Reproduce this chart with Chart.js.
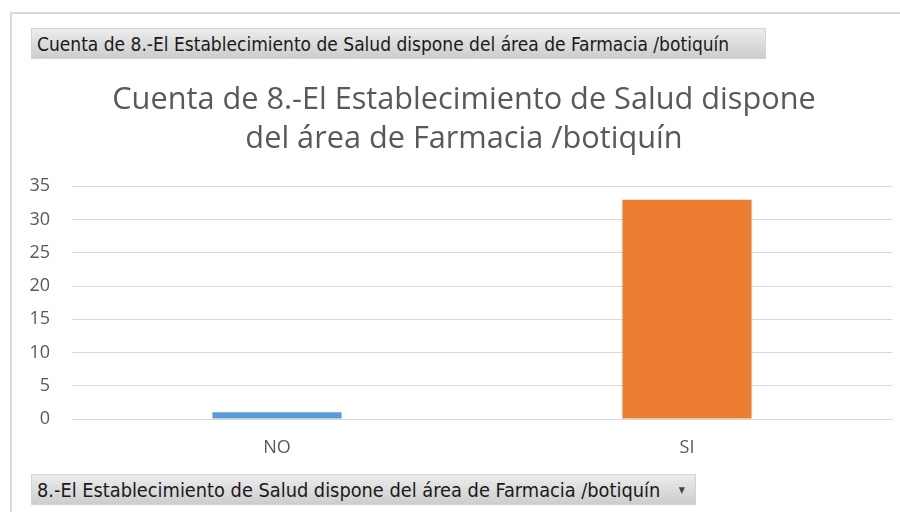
<!DOCTYPE html>
<html>
<head>
<meta charset="utf-8">
<script src="https://cdn.jsdelivr.net/npm/chart.js@4"></script>
<style>
  body { margin: 0; background: #fff; }
  #wrap { position: relative; width: 900px; height: 512px; overflow: hidden; }
  #frame { position: absolute; left: 10px; top: 12px; width: 900px; height: 520px;
           border-left: 2px solid #d9d9d9; border-top: 2px solid #d9d9d9; }
  canvas { position: absolute; left: 0; top: 0; }
  .btn { position: absolute; height: 31px; line-height: 31px; box-sizing: border-box;
         padding-left: 5px; font-family: "DejaVu Sans Condensed", Tahoma, sans-serif; font-size: 19px;
         color: #1a1a1a; background: linear-gradient(to bottom, #ececec, #cdcdcd);
         border: 1px solid #d4d4d4; white-space: nowrap; }
  #topBtn { left: 31px; top: 28px; width: 735px; }
  #bottomBtn { left: 31px; top: 474px; width: 665px; font-size: 19.8px; }
  #bottomBtn .arrow { position: absolute; right: 10px; top: 0; font-size: 9px; color: #444; }
</style>
</head>
<body>
<div id="wrap">
  <div id="frame"></div>
  <canvas id="myChart" width="900" height="512"></canvas>
  <div class="btn" id="topBtn">Cuenta de 8.-El Establecimiento de Salud dispone del área de Farmacia /botiquín</div>
  <div class="btn" id="bottomBtn">8.-El Establecimiento de Salud dispone del área de Farmacia /botiquín<span class="arrow">&#9660;</span></div>
</div>
<script>
const categories = ["NO", "SI"];
const counts = [1, 33];
const barColors = ["#5b9bd5", "#ed7d31"];
const titleLines = ["Cuenta de 8.-El Establecimiento de Salud dispone", "del área de Farmacia /botiquín"];

const ctx = document.getElementById('myChart');

// the title in the picture sits a bit right of the canvas centre
const shiftTitle = {
    id: 'shiftTitle',
    afterLayout(chart) {
        if (chart.titleBlock) chart.titleBlock.left = 36;
    }
};

new Chart(ctx, {
    type: 'bar',
    data: {
        labels: categories,
        datasets: [{
            data: counts,
            backgroundColor: barColors,
            categoryPercentage: 1,
            barPercentage: 0.315
        }]
    },
    options: {
        responsive: false,
        animation: false,
        layout: { padding: { left: 0, right: 8, top: 0, bottom: 0 } },
        plugins: {
            legend: { display: false },
            tooltip: { enabled: false },
            title: {
                display: true,
                text: titleLines,
                color: '#595959',
                font: { family: 'Open Sans', size: 30.7, weight: 'normal', lineHeight: 1.26 },
                padding: { top: 81, bottom: 28 }
            }
        },
        scales: {
            x: {
                grid: { display: false, drawTicks: false },
                border: { display: true, color: '#d9d9d9', width: 1 },
                ticks: { color: '#595959', font: { family: 'Open Sans', size: 18 }, padding: 18 },
                afterFit: (scale) => { scale.height = 93; }
            },
            y: {
                min: 0,
                max: 35,
                grid: { color: '#d9d9d9', drawTicks: false },
                border: { display: false },
                ticks: { stepSize: 5, color: '#595959', font: { family: 'Open Sans', size: 18 }, padding: 22 },
                afterFit: (scale) => { scale.width = 72; }
            }
        }
    },
    plugins: [shiftTitle]
});
</script>
</body>
</html>
